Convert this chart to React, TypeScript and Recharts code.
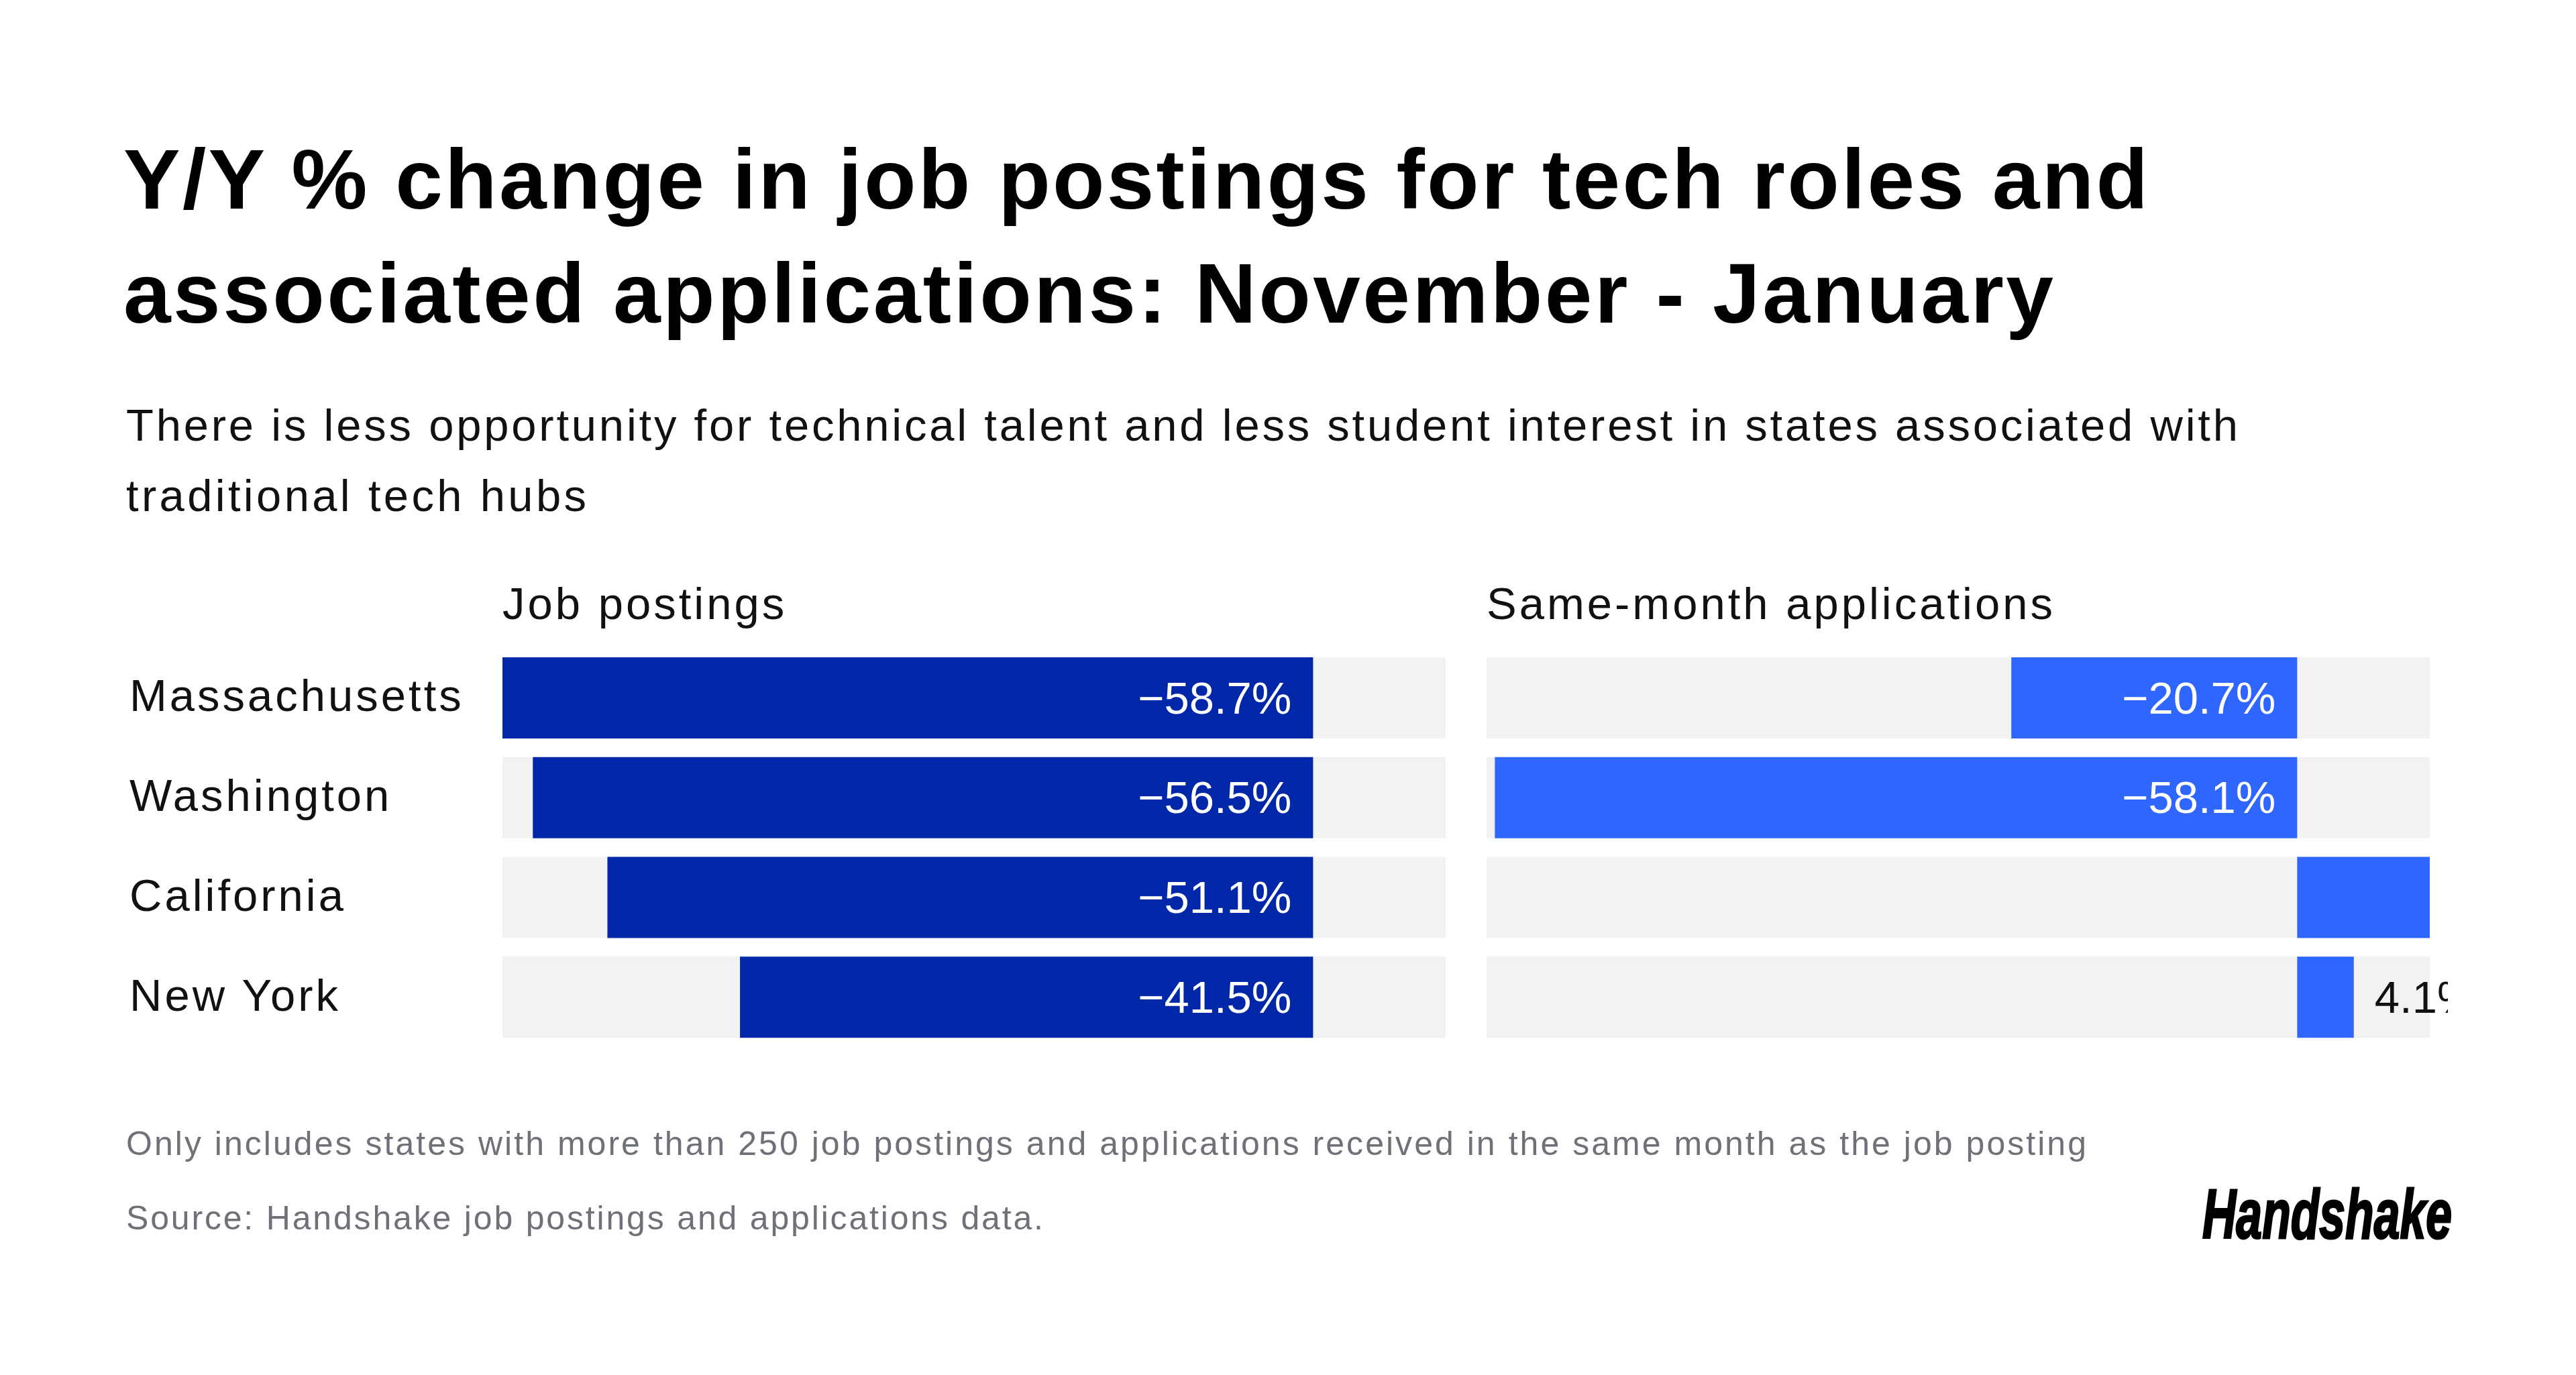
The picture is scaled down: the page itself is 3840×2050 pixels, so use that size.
import React from 'react';
import { BarChart, Bar, XAxis, YAxis, LabelList } from 'recharts';

const states = ['Massachusetts', 'Washington', 'California', 'New York'];
const jobPostingsChange = [-58.7, -56.5, -51.1, -41.5];
const applicationsChange = [-20.7, -58.1, 12.0, 4.1];
const xDomain: [number, number] = [-58.7, 9.6];

const titleLines = [
  'Y/Y % change in job postings for tech roles and',
  'associated applications: November - January',
];
const subtitleLines = [
  'There is less opportunity for technical talent and less student interest in states associated with',
  'traditional tech hubs',
];
const panelTitles = ['Job postings', 'Same-month applications'];
const noteLines = [
  'Only includes states with more than 250 job postings and applications received in the same month as the job posting',
  'Source: Handshake job postings and applications data.',
];
const logoText = 'Handshake';

const data = states.map((state, i) => ({
  state,
  jobs: jobPostingsChange[i],
  apps: applicationsChange[i],
}));

const FONT = "'Liberation Sans', Arial, Helvetica, sans-serif";
const LEFT_COLOR = '#0027A8';
const RIGHT_COLOR = '#2E66FF';
const TRACK = '#F2F2F2';

const fmt = (v: number) => `${v < 0 ? '\u2212' : ''}${Math.abs(v).toFixed(1)}%`;

const ValueLabel = (props: any) => {
  const { x, y, width, height, value } = props;
  const v = Number(value);
  // bars that run past the axis domain are clipped and carry no visible label
  if (v > xDomain[1] || v < xDomain[0]) return null;
  const x0 = Number(x);
  const w = Number(width);
  const right = Math.max(x0, x0 + w);
  const cy = Number(y) + Number(height) / 2;
  const neg = v < 0;
  return (
    <text
      x={neg ? right - 32 : right + 31}
      y={cy}
      dy={23}
      textAnchor={neg ? 'end' : 'start'}
      fill={neg ? '#FFFFFF' : '#111111'}
      fontSize={67}
      fontFamily={FONT}
    >
      {fmt(v)}
    </text>
  );
};

const StateTick = (props: any) => (
  <text
    x={193}
    y={props.y}
    dy={20}
    textAnchor="start"
    fill="#111111"
    fontSize={67}
    fontFamily={FONT}
    style={{ letterSpacing: '4px' }}
  >
    {props.payload.value}
  </text>
);

export default function App() {
  return (
    <div
      style={{
        position: 'absolute',
        left: 0,
        top: 0,
        width: 3840,
        height: 2050,
        background: '#FFFFFF',
        overflow: 'hidden',
      }}
    >
      <svg width={3840} height={2050} style={{ position: 'absolute', left: 0, top: 0 }}>
        <text x={184} y={311} fontFamily={FONT} fontWeight={700} fontSize={127} fill="#000" textLength={3018} lengthAdjust="spacing">
          {titleLines[0]}
        </text>
        <text x={184} y={481} fontFamily={FONT} fontWeight={700} fontSize={127} fill="#000" textLength={2877} lengthAdjust="spacing">
          {titleLines[1]}
        </text>
        <text x={188} y={657} fontFamily={FONT} fontSize={67} fill="#111" textLength={3148} lengthAdjust="spacing">
          {subtitleLines[0]}
        </text>
        <text x={188} y={762} fontFamily={FONT} fontSize={67} fill="#111" textLength={686} lengthAdjust="spacing">
          {subtitleLines[1]}
        </text>
        <text x={749} y={923} fontFamily={FONT} fontSize={67} fill="#111" style={{ letterSpacing: '4px' }}>
          {panelTitles[0]}
        </text>
        <text x={2216} y={923} fontFamily={FONT} fontSize={67} fill="#111" style={{ letterSpacing: '4px' }}>
          {panelTitles[1]}
        </text>
        <text x={188} y={1722} fontFamily={FONT} fontSize={50} fill="#6E7177" textLength={2922} lengthAdjust="spacing">
          {noteLines[0]}
        </text>
        <text x={188} y={1833} fontFamily={FONT} fontSize={50} fill="#6E7177" textLength={1367} lengthAdjust="spacing">
          {noteLines[1]}
        </text>
        <text
          x={3283}
          y={1846}
          fontFamily="'Liberation Sans Narrow', 'Liberation Sans', Arial, sans-serif"
          fontWeight={700}
          fontStyle="italic"
          fontSize={104}
          fill="#000"
          stroke="#000"
          strokeWidth={3}
          textLength={372}
          lengthAdjust="spacingAndGlyphs"
        >
          {logoText}
        </text>
      </svg>

      <div style={{ position: 'absolute', left: 0, top: 966 }}>
        <BarChart
          width={2155}
          height={595}
          data={data}
          layout="vertical"
          margin={{ top: 0, right: 0, bottom: 0, left: 0 }}
        >
          <XAxis type="number" domain={xDomain} allowDataOverflow hide />
          <YAxis
            type="category"
            dataKey="state"
            width={749}
            axisLine={false}
            tickLine={false}
            interval={0}
            tick={(p: any) => <StateTick {...p} />}
          />
          <Bar dataKey="jobs" fill={LEFT_COLOR} barSize={121} background={{ fill: TRACK }} isAnimationActive={false}>
            <LabelList dataKey="jobs" content={(p: any) => <ValueLabel {...p} />} />
          </Bar>
        </BarChart>
      </div>

      <div style={{ position: 'absolute', left: 2216, top: 966 }}>
        <BarChart
          width={1433}
          height={595}
          data={data}
          layout="vertical"
          margin={{ top: 0, right: 27, bottom: 0, left: 0 }}
        >
          <XAxis type="number" domain={xDomain} allowDataOverflow hide />
          <YAxis type="category" dataKey="state" hide />
          <Bar dataKey="apps" fill={RIGHT_COLOR} barSize={121} background={{ fill: TRACK }} isAnimationActive={false}>
            <LabelList dataKey="apps" content={(p: any) => <ValueLabel {...p} />} />
          </Bar>
        </BarChart>
      </div>
    </div>
  );
}
